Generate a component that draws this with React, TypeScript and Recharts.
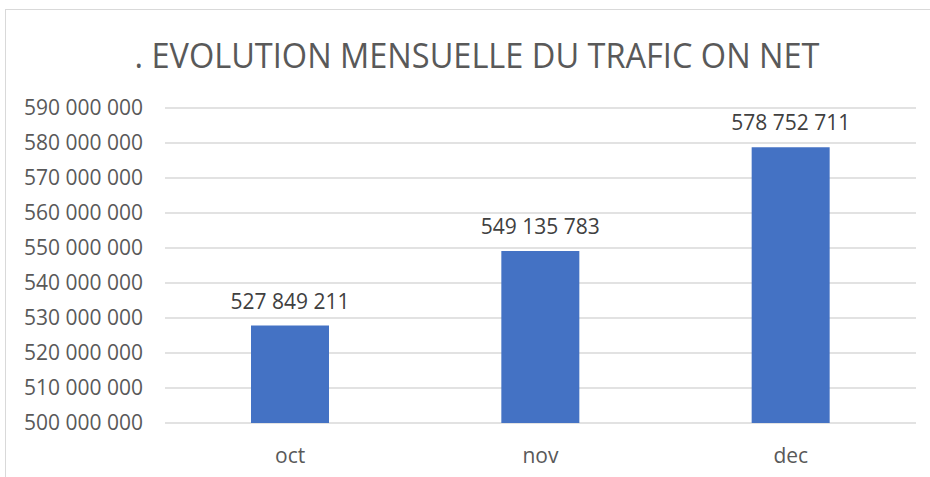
import { BarChart, Bar, XAxis, YAxis, CartesianGrid, LabelList } from "recharts"

const months = ["oct", "nov", "dec"]
const traffic = [527849211, 549135783, 578752711]
const yTicks = [500000000, 510000000, 520000000, 530000000, 540000000, 550000000, 560000000, 570000000, 580000000, 590000000]

const data = months.map((m, i) => ({ month: m, traffic: traffic[i] }))

const fmt = (v: number) => String(v).replace(/\B(?=(\d{3})+(?!\d))/g, " ")

const textColor = "#595959"
const font = "'Open Sans', sans-serif"

// label above each bar, kept on one line
const BarValue = (props: any) => {
  const { x, y, width, value } = props
  return (
    <text x={Number(x) + Number(width) / 2} y={Number(y) - 17} textAnchor="middle" fill="#404040" fontSize={21} fontFamily={font}>
      {fmt(Number(value))}
    </text>
  )
}

export default function App() {
  return (
    <div style={{ position: "fixed", top: 0, left: 0, width: 930, height: 477, background: "#fff", fontFamily: font }}>
      <div
        style={{
          position: "absolute",
          top: 9,
          left: 5,
          width: 925,
          height: 468,
          borderTop: "1.5px solid #d9d9d9",
          borderLeft: "1.5px solid #d9d9d9",
        }}
      />
      <svg width={930} height={100} style={{ position: "absolute", top: 0, left: 0 }}>
        <text
          x={477}
          y={68}
          textAnchor="middle"
          fill={textColor}
          fontSize={35}
          fontFamily={font}
          textLength={685}
          lengthAdjust="spacingAndGlyphs"
        >
          . EVOLUTION MENSUELLE DU TRAFIC ON NET
        </text>
      </svg>
      <div style={{ position: "absolute", top: 0, left: 0 }}>
        <BarChart width={930} height={477} data={data} margin={{ top: 108, right: 14, bottom: 0, left: 0 }} barSize={78}>
          <CartesianGrid vertical={false} stroke="#d9d9d9" strokeWidth={1.5} />
          <XAxis
            dataKey="month"
            height={54}
            axisLine={false}
            tickLine={false}
            tickSize={0}
            tickMargin={25}
            tick={{ fill: textColor, fontSize: 21, fontFamily: font }}
          />
          <YAxis
            width={165}
            domain={[500000000, 590000000]}
            ticks={yTicks}
            interval={0}
            axisLine={false}
            tickLine={false}
            tickSize={0}
            tickMargin={22}
            tickFormatter={fmt}
            tick={{ fill: textColor, fontSize: 21, fontFamily: font }}
          />
          <Bar dataKey="traffic" fill="#4472C4" isAnimationActive={false}>
            <LabelList dataKey="traffic" content={BarValue} />
          </Bar>
        </BarChart>
      </div>
    </div>
  )
}
